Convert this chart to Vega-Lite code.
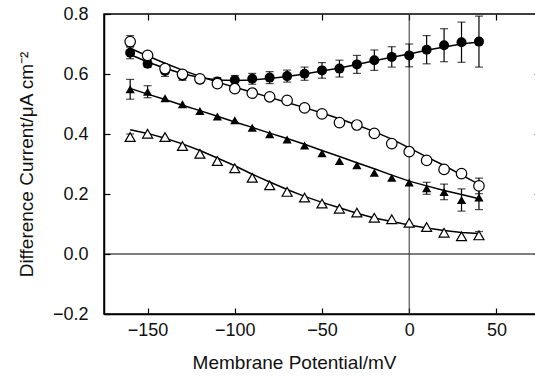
{
 "$schema": "https://vega.github.io/schema/vega-lite/v6.json",
 "width": 436, "height": 300,
 "autosize": {"type": "none"},
 "padding": {"left": 104, "top": 14, "right": 0, "bottom": 63},
 "background": "white",
 "config": {
  "view": {"stroke": "black", "strokeWidth": 1.5},
  "font": "Liberation Sans",
  "axis": {"domainColor": "black", "domainWidth": 1.5, "tickColor": "black", "tickSize": -6, "tickWidth": 1.2,
           "labelFontSize": 18, "labelColor": "#111", "labelFont": "Liberation Sans",
           "titleFontSize": 19, "titleColor": "#111", "titleFontWeight": "normal", "titleFont": "Liberation Sans", "grid": false}
 },
 "datasets": {
  "pts": [
   {"V":-160,"I":0.671,"s":"A","lo":0.651,"hi":0.691},{"V":-150,"I":0.634,"s":"A","lo":0.622,"hi":0.646},{"V":-140,"I":0.61,"s":"A","lo":0.592,"hi":0.628},{"V":-130,"I":0.594,"s":"A","lo":0.579,"hi":0.609},{"V":-120,"I":0.582,"s":"A","lo":0.570,"hi":0.594},{"V":-110,"I":0.575,"s":"A","lo":0.562,"hi":0.588},{"V":-100,"I":0.58,"s":"A","lo":0.565,"hi":0.595},{"V":-90,"I":0.584,"s":"A","lo":0.566,"hi":0.602},{"V":-80,"I":0.588,"s":"A","lo":0.568,"hi":0.608},{"V":-70,"I":0.593,"s":"A","lo":0.573,"hi":0.613},{"V":-60,"I":0.601,"s":"A","lo":0.579,"hi":0.623},{"V":-50,"I":0.612,"s":"A","lo":0.586,"hi":0.638},{"V":-40,"I":0.618,"s":"A","lo":0.590,"hi":0.646},{"V":-30,"I":0.632,"s":"A","lo":0.602,"hi":0.662},{"V":-20,"I":0.646,"s":"A","lo":0.612,"hi":0.680},{"V":-10,"I":0.657,"s":"A","lo":0.623,"hi":0.691},{"V":0,"I":0.662,"s":"A","lo":0.624,"hi":0.700},{"V":10,"I":0.681,"s":"A","lo":0.634,"hi":0.728},{"V":20,"I":0.696,"s":"A","lo":0.641,"hi":0.751},{"V":30,"I":0.706,"s":"A","lo":0.639,"hi":0.773},{"V":40,"I":0.708,"s":"A","lo":0.623,"hi":0.793},
   {"V":-160,"I":0.708,"s":"B","lo":0.690,"hi":0.728},{"V":-150,"I":0.662,"s":"B"},{"V":-140,"I":0.618,"s":"B"},{"V":-130,"I":0.599,"s":"B"},{"V":-120,"I":0.584,"s":"B"},{"V":-110,"I":0.568,"s":"B"},{"V":-100,"I":0.551,"s":"B"},{"V":-90,"I":0.536,"s":"B"},{"V":-80,"I":0.524,"s":"B"},{"V":-70,"I":0.512,"s":"B"},{"V":-60,"I":0.487,"s":"B"},{"V":-50,"I":0.467,"s":"B"},{"V":-40,"I":0.438,"s":"B"},{"V":-30,"I":0.43,"s":"B"},{"V":-20,"I":0.402,"s":"B"},{"V":-10,"I":0.368,"s":"B"},{"V":0,"I":0.341,"s":"B"},{"V":10,"I":0.312,"s":"B"},{"V":20,"I":0.282,"s":"B"},{"V":30,"I":0.268,"s":"B"},{"V":40,"I":0.227,"s":"B","lo":0.201,"hi":0.253},
   {"V":-160,"I":0.549,"s":"C","lo":0.516,"hi":0.582},{"V":-150,"I":0.541,"s":"C","lo":0.521,"hi":0.561},{"V":-140,"I":0.519,"s":"C"},{"V":-130,"I":0.499,"s":"C"},{"V":-120,"I":0.477,"s":"C"},{"V":-110,"I":0.458,"s":"C"},{"V":-100,"I":0.446,"s":"C"},{"V":-90,"I":0.421,"s":"C"},{"V":-80,"I":0.399,"s":"C"},{"V":-70,"I":0.382,"s":"C"},{"V":-60,"I":0.362,"s":"C"},{"V":-50,"I":0.336,"s":"C"},{"V":-40,"I":0.31,"s":"C"},{"V":-30,"I":0.296,"s":"C"},{"V":-20,"I":0.271,"s":"C"},{"V":-10,"I":0.254,"s":"C"},{"V":0,"I":0.238,"s":"C"},{"V":10,"I":0.219,"s":"C","lo":0.199,"hi":0.239},{"V":20,"I":0.207,"s":"C","lo":0.181,"hi":0.233},{"V":30,"I":0.18,"s":"C","lo":0.143,"hi":0.217},{"V":40,"I":0.188,"s":"C","lo":0.148,"hi":0.228},
   {"V":-160,"I":0.39,"s":"D","lo":0.380,"hi":0.400},{"V":-150,"I":0.401,"s":"D"},{"V":-140,"I":0.39,"s":"D"},{"V":-130,"I":0.36,"s":"D"},{"V":-120,"I":0.334,"s":"D"},{"V":-110,"I":0.31,"s":"D"},{"V":-100,"I":0.286,"s":"D"},{"V":-90,"I":0.254,"s":"D"},{"V":-80,"I":0.229,"s":"D"},{"V":-70,"I":0.207,"s":"D"},{"V":-60,"I":0.188,"s":"D"},{"V":-50,"I":0.168,"s":"D"},{"V":-40,"I":0.151,"s":"D"},{"V":-30,"I":0.138,"s":"D"},{"V":-20,"I":0.121,"s":"D"},{"V":-10,"I":0.116,"s":"D"},{"V":0,"I":0.104,"s":"D"},{"V":10,"I":0.09,"s":"D"},{"V":20,"I":0.071,"s":"D"},{"V":30,"I":0.059,"s":"D"},{"V":40,"I":0.062,"s":"D","lo":0.049,"hi":0.075}
  ],
  "fit": [
   {"V":-160,"I":0.665,"s":"A"},{"V":-150,"I":0.64,"s":"A"},{"V":-140,"I":0.619,"s":"A"},{"V":-130,"I":0.601,"s":"A"},{"V":-120,"I":0.588,"s":"A"},{"V":-110,"I":0.58,"s":"A"},{"V":-100,"I":0.578,"s":"A"},{"V":-90,"I":0.58,"s":"A"},{"V":-80,"I":0.585,"s":"A"},{"V":-70,"I":0.592,"s":"A"},{"V":-60,"I":0.6,"s":"A"},{"V":-50,"I":0.61,"s":"A"},{"V":-40,"I":0.62,"s":"A"},{"V":-30,"I":0.632,"s":"A"},{"V":-20,"I":0.644,"s":"A"},{"V":-10,"I":0.656,"s":"A"},{"V":0,"I":0.667,"s":"A"},{"V":10,"I":0.679,"s":"A"},{"V":20,"I":0.69,"s":"A"},{"V":30,"I":0.7,"s":"A"},{"V":40,"I":0.707,"s":"A"},
   {"V":-160,"I":0.686,"s":"B"},{"V":-150,"I":0.66,"s":"B"},{"V":-140,"I":0.636,"s":"B"},{"V":-130,"I":0.613,"s":"B"},{"V":-120,"I":0.592,"s":"B"},{"V":-110,"I":0.573,"s":"B"},{"V":-100,"I":0.556,"s":"B"},{"V":-90,"I":0.539,"s":"B"},{"V":-80,"I":0.522,"s":"B"},{"V":-70,"I":0.505,"s":"B"},{"V":-60,"I":0.488,"s":"B"},{"V":-50,"I":0.47,"s":"B"},{"V":-40,"I":0.451,"s":"B"},{"V":-30,"I":0.43,"s":"B"},{"V":-20,"I":0.408,"s":"B"},{"V":-10,"I":0.383,"s":"B"},{"V":0,"I":0.354,"s":"B"},{"V":10,"I":0.324,"s":"B"},{"V":20,"I":0.295,"s":"B"},{"V":30,"I":0.264,"s":"B"},{"V":40,"I":0.232,"s":"B"},
   {"V":-160,"I":0.552,"s":"C"},{"V":-150,"I":0.533,"s":"C"},{"V":-140,"I":0.515,"s":"C"},{"V":-130,"I":0.496,"s":"C"},{"V":-120,"I":0.478,"s":"C"},{"V":-110,"I":0.459,"s":"C"},{"V":-100,"I":0.44,"s":"C"},{"V":-90,"I":0.422,"s":"C"},{"V":-80,"I":0.403,"s":"C"},{"V":-70,"I":0.385,"s":"C"},{"V":-60,"I":0.366,"s":"C"},{"V":-50,"I":0.345,"s":"C"},{"V":-40,"I":0.325,"s":"C"},{"V":-30,"I":0.304,"s":"C"},{"V":-20,"I":0.284,"s":"C"},{"V":-10,"I":0.263,"s":"C"},{"V":0,"I":0.243,"s":"C"},{"V":10,"I":0.227,"s":"C"},{"V":20,"I":0.212,"s":"C"},{"V":30,"I":0.198,"s":"C"},{"V":40,"I":0.184,"s":"C"},
   {"V":-160,"I":0.414,"s":"D"},{"V":-150,"I":0.402,"s":"D"},{"V":-140,"I":0.386,"s":"D"},{"V":-130,"I":0.367,"s":"D"},{"V":-120,"I":0.345,"s":"D"},{"V":-110,"I":0.32,"s":"D"},{"V":-100,"I":0.294,"s":"D"},{"V":-90,"I":0.266,"s":"D"},{"V":-80,"I":0.24,"s":"D"},{"V":-70,"I":0.215,"s":"D"},{"V":-60,"I":0.192,"s":"D"},{"V":-50,"I":0.172,"s":"D"},{"V":-40,"I":0.154,"s":"D"},{"V":-30,"I":0.136,"s":"D"},{"V":-20,"I":0.12,"s":"D"},{"V":-10,"I":0.108,"s":"D"},{"V":0,"I":0.097,"s":"D"},{"V":10,"I":0.087,"s":"D"},{"V":20,"I":0.078,"s":"D"},{"V":30,"I":0.072,"s":"D"},{"V":40,"I":0.068,"s":"D"}
  ],
  "zx": [{"V": 0}],
  "zy": [{"I": 0}]
 },
 "resolve": {"axis": {"x": "independent", "y": "independent"}},
 "layer": [
  {
   "data": {"name": "zy"},
   "mark": {"type": "rule", "color": "black", "strokeWidth": 1.2},
   "encoding": {
    "y": {"field": "I", "type": "quantitative", "scale": {"domain": [-0.2, 0.8], "nice": false},
          "axis": {"values": [-0.2, 0, 0.2, 0.4, 0.6, 0.8], "format": ".1f", "title": "Difference Current/μA cm⁻²", "labelPadding": 22, "titlePadding": 16}}
   }
  },
  {
   "data": {"name": "zx"},
   "mark": {"type": "rule", "color": "#333", "strokeWidth": 1},
   "encoding": {
    "x": {"field": "V", "type": "quantitative", "scale": {"domain": [-175, 75], "nice": false},
          "axis": {"values": [-150, -100, -50, 0, 50], "title": "Membrane Potential/mV", "labelPadding": 13, "titlePadding": 14, "titleX": 190}}
   }
  },
  {
   "data": {"name": "zx"},
   "mark": {"type": "rule", "opacity": 0},
   "encoding": {
    "x": {"field": "V", "type": "quantitative", "axis": {"orient": "top", "values": [-150, -100, -50, 0, 50], "labels": false, "title": null, "domain": false}},
    "y": {"datum": 0, "type": "quantitative", "axis": {"orient": "right", "values": [-0.2, 0, 0.2, 0.4, 0.6, 0.8], "labels": false, "title": null, "domain": false}}
   }
  },
  {
   "data": {"name": "fit"},
   "mark": {"type": "line", "color": "black", "strokeWidth": 1.5},
   "encoding": {
    "x": {"field": "V", "type": "quantitative", "axis": null},
    "y": {"field": "I", "type": "quantitative", "axis": null},
    "detail": {"field": "s"}
   }
  },
  {
   "data": {"name": "pts"},
   "transform": [{"filter": "isValid(datum.lo)"}],
   "mark": {"type": "rule", "color": "black", "strokeWidth": 1.2},
   "encoding": {
    "x": {"field": "V", "type": "quantitative", "axis": null},
    "y": {"field": "lo", "type": "quantitative", "axis": null},
    "y2": {"field": "hi"}
   }
  },
  {
   "data": {"name": "pts"},
   "transform": [{"filter": "isValid(datum.lo)"}],
   "mark": {"type": "tick", "color": "black", "orient": "horizontal", "size": 8, "thickness": 1.2},
   "encoding": {
    "x": {"field": "V", "type": "quantitative", "axis": null},
    "y": {"field": "lo", "type": "quantitative", "axis": null}
   }
  },
  {
   "data": {"name": "pts"},
   "transform": [{"filter": "isValid(datum.hi)"}],
   "mark": {"type": "tick", "color": "black", "orient": "horizontal", "size": 8, "thickness": 1.2},
   "encoding": {
    "x": {"field": "V", "type": "quantitative", "axis": null},
    "y": {"field": "hi", "type": "quantitative", "axis": null}
   }
  },
  {
   "data": {"name": "pts"},
   "transform": [{"filter": "datum.s == 'A'"}],
   "mark": {"type": "point", "shape": "circle", "filled": true, "color": "black", "size": 100, "opacity": 1},
   "encoding": {
    "x": {"field": "V", "type": "quantitative", "axis": null},
    "y": {"field": "I", "type": "quantitative", "axis": null}
   }
  },
  {
   "data": {"name": "pts"},
   "transform": [{"filter": "datum.s == 'B'"}],
   "mark": {"type": "point", "shape": "circle", "filled": true, "fill": "white", "stroke": "black", "strokeWidth": 1.2, "size": 110, "opacity": 1},
   "encoding": {
    "x": {"field": "V", "type": "quantitative", "axis": null},
    "y": {"field": "I", "type": "quantitative", "axis": null}
   }
  },
  {
   "data": {"name": "pts"},
   "transform": [{"filter": "datum.s == 'C'"}],
   "mark": {"type": "point", "shape": "triangle-up", "filled": true, "color": "black", "size": 85, "opacity": 1},
   "encoding": {
    "x": {"field": "V", "type": "quantitative", "axis": null},
    "y": {"field": "I", "type": "quantitative", "axis": null}
   }
  },
  {
   "data": {"name": "pts"},
   "transform": [{"filter": "datum.s == 'D'"}],
   "mark": {"type": "point", "shape": "triangle-up", "filled": true, "fill": "white", "stroke": "black", "strokeWidth": 1.2, "size": 100, "opacity": 1},
   "encoding": {
    "x": {"field": "V", "type": "quantitative", "axis": null},
    "y": {"field": "I", "type": "quantitative", "axis": null}
   }
  }
 ]
}
